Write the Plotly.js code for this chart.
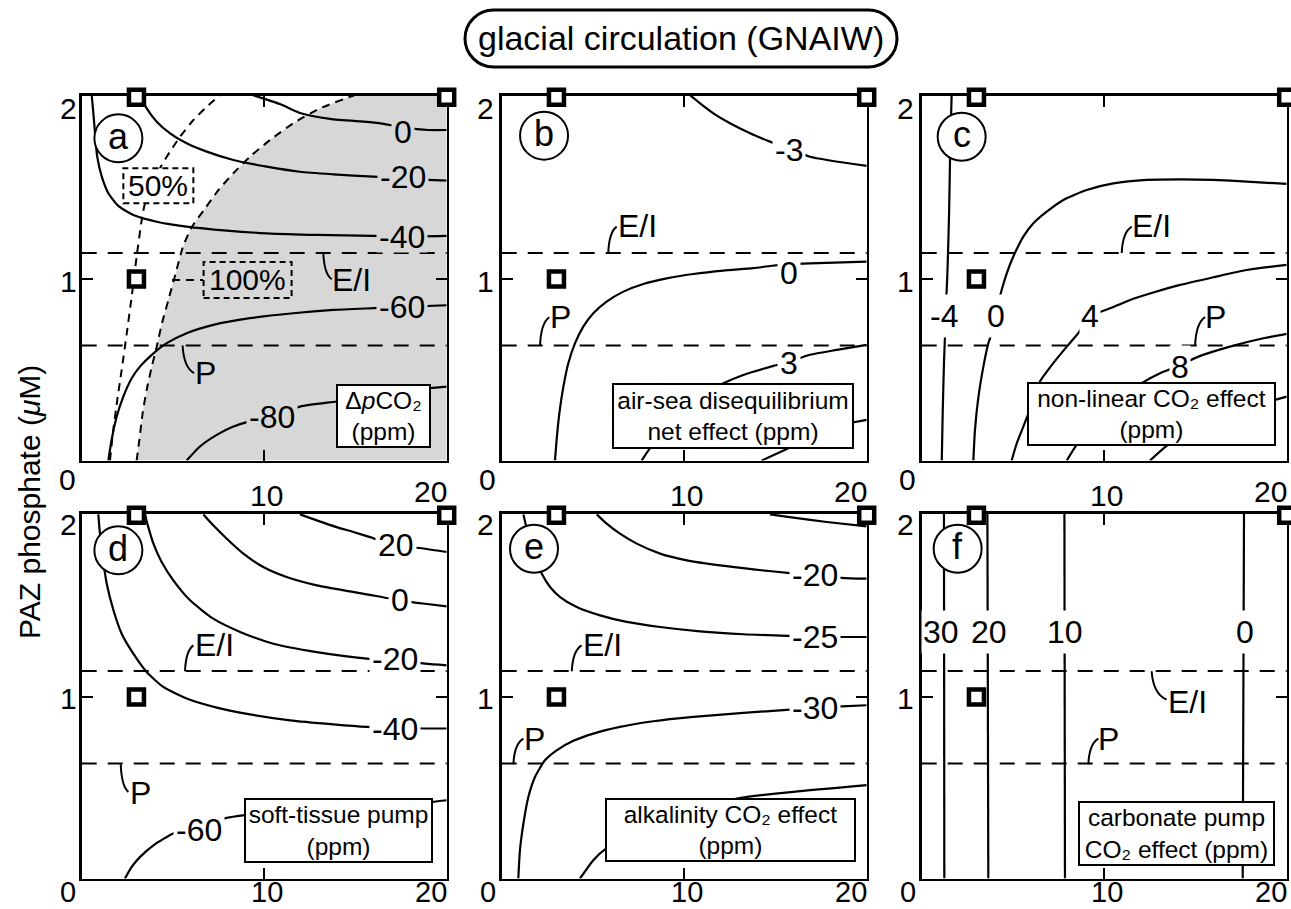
<!DOCTYPE html>
<html><head><meta charset="utf-8">
<script src="https://cdn.plot.ly/plotly-3.0.1.min.js"></script>
<style>html,body{margin:0;padding:0;background:#fff;}#chart{width:1291px;height:909px;}</style>
</head><body><div id="chart"></div>
<script>
// ================= DATA =================
const xTickVals = [0, 10, 20];
const xTickText = ['0', '10', '20'];
const yTickVals = [1, 2];
const yTickText = ['1', '2'];
const thresholdNames = ['E/I', 'P'];
const thresholdPhosphate = [1.143, 0.633];
const siteX = [3, 20, 3];
const siteY = [2, 2, 1];

// (a) ΔpCO2 contours
const a0_x   = [9.38, 10.86, 11.96, 13.61, 16.18, 17.55, 18.98, 20.0];
const a0_y   = [2.012, 1.963, 1.914, 1.881, 1.859, 1.836, 1.820, 1.820];
const am20_x = [3.19, 3.56, 4.11, 4.84, 5.75, 6.85, 8.31, 10.14, 11.96, 13.79, 15.98, 17.61, 18.98, 20.0];
const am20_y = [2.01, 1.939, 1.866, 1.802, 1.747, 1.701, 1.655, 1.618, 1.590, 1.576, 1.563, 1.556, 1.545, 1.542];
const am40_x = [0.55, 0.64, 0.73, 0.85, 1.10, 1.46, 2.01, 2.83, 4.11, 5.75, 7.95, 10.14, 12.88, 15.98, 17.61, 20.0];
const am40_y = [2.01, 1.912, 1.802, 1.673, 1.563, 1.472, 1.402, 1.352, 1.315, 1.288, 1.266, 1.251, 1.242, 1.237, 1.234, 1.237];
const am60_x = [1.46, 1.64, 1.92, 2.28, 2.74, 3.19, 3.84, 4.66, 5.75, 7.21, 9.22, 11.59, 13.79, 15.98, 17.61, 20.0];
const am60_y = [0, 0.114, 0.242, 0.352, 0.453, 0.517, 0.582, 0.646, 0.701, 0.747, 0.784, 0.811, 0.829, 0.839, 0.846, 0.855];
const am80_x = [5.75, 6.48, 7.40, 8.31, 9.11, 10.32, 11.96, 13.97, 16.62, 19.08, 20.0];
const am80_y = [0, 0.077, 0.141, 0.187, 0.213, 0.242, 0.297, 0.325, 0.362, 0.398, 0.407];
// (a) 50 % and 100 % boundaries (dashed)
const a50_x  = [1.55, 1.73, 1.95, 2.19, 2.47, 2.74, 3.01, 3.29, 3.47, 4.29, 4.66, 5.39, 6.12, 6.85, 7.58];
const a50_y  = [0, 0.169, 0.334, 0.499, 0.701, 0.903, 1.123, 1.325, 1.417, 1.609, 1.673, 1.783, 1.875, 1.948, 2.013];
const a100_x = [3.01, 3.16, 3.34, 3.56, 3.84, 4.11, 4.40, 4.75, 5.15, 5.55, 6.05, 6.70, 7.50, 8.31, 9.22, 10.32, 11.59, 13.06, 14.70, 14.92];
const a100_y = [0, 0.114, 0.261, 0.389, 0.517, 0.627, 0.756, 0.884, 1.031, 1.178, 1.288, 1.380, 1.490, 1.582, 1.673, 1.765, 1.857, 1.939, 2.003, 2.01];

// (b) air-sea disequilibrium net effect
const bm3_x = [10.32, 10.87, 11.60, 12.51, 13.61, 14.70, 15.80, 16.89, 20.0];
const bm3_y = [2.012, 1.967, 1.912, 1.857, 1.802, 1.756, 1.713, 1.673, 1.622];
const b0_x  = [2.92, 3.01, 3.16, 3.38, 3.65, 4.02, 4.47, 5.02, 5.75, 6.67, 7.76, 9.04, 10.50, 12.15, 13.79, 14.70, 15.80, 16.89, 20.0];
const b0_y  = [0, 0.114, 0.261, 0.407, 0.536, 0.646, 0.737, 0.811, 0.875, 0.930, 0.972, 1.003, 1.027, 1.046, 1.059, 1.071, 1.081, 1.086, 1.095];
const b3_x  = [7.67, 8.13, 9.59, 10.87, 12.15, 13.24, 14.89, 15.80, 16.89, 18.36, 20.0];
const b3_y  = [0, 0.068, 0.242, 0.361, 0.426, 0.471, 0.521, 0.545, 0.582, 0.609, 0.637];
const b6_x  = [14.25, 15.71, 17.81, 19.0, 20.0];
const b6_y  = [0, 0.068, 0.169, 0.205, 0.224];

// (c) non-linear CO2 effect
const cm4_x = [1.64, 1.59, 1.55, 1.50, 1.42, 1.37, 1.28, 1.28, 1.22, 1.15, 1.10];
const cm4_y = [2.012, 1.820, 1.646, 1.361, 1.068, 0.939, 0.793, 0.701, 0.536, 0.261, 0];
const c0_x  = [2.83, 2.92, 3.11, 3.38, 3.65, 3.84, 4.05, 4.38, 4.66, 5.02, 5.57, 6.12, 6.85, 7.76, 9.04, 10.50, 12.33, 14.16, 15.98, 17.81, 20.0];
const c0_y  = [0, 0.169, 0.352, 0.517, 0.646, 0.701, 0.802, 0.939, 1.031, 1.123, 1.233, 1.306, 1.370, 1.435, 1.490, 1.526, 1.545, 1.548, 1.545, 1.536, 1.523];
const c4_x  = [4.93, 5.21, 5.57, 6.03, 6.48, 7.21, 7.95, 8.58, 9.22, 10.32, 11.42, 12.69, 14.16, 15.98, 17.81, 20.0];
const c4_y  = [0, 0.095, 0.187, 0.306, 0.435, 0.536, 0.627, 0.701, 0.793, 0.838, 0.884, 0.925, 0.967, 1.009, 1.049, 1.077];
const c8_x  = [7.95, 8.49, 10.14, 12.05, 13.06, 14.16, 15.16, 16.89, 18.72, 20.0];
const c8_y  = [0, 0.086, 0.279, 0.426, 0.481, 0.525, 0.572, 0.627, 0.673, 0.697];
const c12_x = [12.51, 13.42, 15.98, 19.36, 20.0];
const c12_y = [0, 0.081, 0.242, 0.334, 0.352];

// (d) soft-tissue pump
const dm40_x = [0.91, 1.00, 1.15, 1.37, 1.74, 2.19, 2.83, 3.56, 4.47, 5.75, 7.40, 9.22, 11.42, 13.79, 15.62, 17.17, 18.81, 20.0];
const dm40_y = [2.005, 1.899, 1.770, 1.624, 1.477, 1.348, 1.238, 1.137, 1.055, 0.991, 0.941, 0.904, 0.871, 0.849, 0.835, 0.829, 0.826, 0.826];
const dm20_x = [3.47, 3.65, 3.93, 4.38, 5.02, 5.94, 7.21, 8.68, 10.50, 12.88, 15.62, 17.17, 18.81, 20.0];
const dm20_y = [2.005, 1.935, 1.844, 1.743, 1.642, 1.532, 1.431, 1.358, 1.293, 1.247, 1.211, 1.202, 1.183, 1.174];
const d0_x   = [6.67, 7.21, 7.95, 8.86, 9.95, 11.23, 12.88, 14.70, 15.62, 17.44, 18.81, 20.0];
const d0_y   = [2.005, 1.945, 1.871, 1.789, 1.715, 1.660, 1.614, 1.581, 1.565, 1.532, 1.513, 1.499];
const d20_x  = [11.96, 12.88, 13.97, 14.89, 15.80, 17.17, 18.81, 20.0];
const d20_y  = [2.005, 1.972, 1.935, 1.908, 1.880, 1.835, 1.816, 1.798];
const dm60_x = [2.37, 2.74, 3.20, 3.93, 5.02, 6.39, 7.76, 8.95, 13.79, 19.18, 20.0];
const dm60_y = [0, 0.064, 0.119, 0.183, 0.248, 0.290, 0.330, 0.349, 0.385, 0.422, 0.431];

// (e) alkalinity CO2 effect
const em15_x = [14.70, 15.98, 17.81, 20.0];
const em15_y = [2.005, 1.987, 1.963, 1.939];
const em20_x = [5.21, 5.75, 6.48, 7.40, 8.68, 10.14, 11.96, 13.79, 15.80, 17.17, 18.63, 20.0];
const em20_y = [2.005, 1.954, 1.899, 1.844, 1.789, 1.752, 1.724, 1.702, 1.682, 1.669, 1.656, 1.651];
const em25_x = [1.19, 1.33, 1.74, 2.19, 2.65, 3.20, 4.11, 5.39, 6.85, 8.68, 10.87, 13.24, 15.80, 17.17, 18.63, 20.0];
const em25_y = [2.005, 1.945, 1.789, 1.679, 1.605, 1.550, 1.495, 1.449, 1.413, 1.385, 1.361, 1.345, 1.336, 1.330, 1.330, 1.330];
const em30_x = [0.91, 1.00, 1.19, 1.46, 1.83, 2.37, 3.01, 3.93, 5.02, 6.48, 8.31, 10.50, 13.24, 15.80, 17.17, 18.63, 20.0];
const em30_y = [0, 0.156, 0.303, 0.449, 0.560, 0.651, 0.706, 0.758, 0.798, 0.835, 0.866, 0.890, 0.912, 0.930, 0.941, 0.948, 0.954];
const em35_x = [4.29, 5.02, 5.66, 8.68, 12.88, 15.98, 20.0];
const em35_y = [0, 0.101, 0.160, 0.321, 0.440, 0.477, 0.514];

// (f) carbonate pump CO2 effect (vertical contours)
const f30_x = [1.22, 1.24];
const f20_x = [3.60, 3.65];
const f10_x = [7.82, 7.85];
const f0_x  = [17.66, 17.59];
const f_y   = [2.01, 0];

// ================= LAYOUT CONFIG =================
const FONT = 'Liberation Sans, Arial, Helvetica, sans-serif';
const W = 1291, H = 909;
const colLeft = [81.7, 501.7, 921.7], rowTop = [95.5, 513.5], PW = 365, PH = 365;
const XR = [0, 20], YR = [0, 2.01];
const GRAY = '#d7d7d7';

const panels = [
  { letter: 'a', col: 0, row: 0, letterPos: [2.01, 1.774], labelBg: GRAY, labH: 26, labPad: 2,
    contours: [[a0_x, a0_y], [am20_x, am20_y], [am40_x, am40_y], [am60_x, am60_y], [am80_x, am80_y]],
    labels: [['0', 17.58, 1.809], ['-20', 17.63, 1.561], ['-40', 17.57, 1.229], ['-60', 17.57, 0.844], ['-80', 10.41, 0.242]],
    box: ['Δ<i>p</i>CO₂<br>(ppm)', 16.53, 0.247, 93, 62],
    ei: [14.79, 0.994, 13.24, 1.143, 13.70, 0.998], p: [6.76, 0.481, 5.53, 0.633, 6.16, 0.481] },
  { letter: 'b', col: 1, row: 0, letterPos: [2.32, 1.789], labelBg: 'white', labH: 26, labPad: 2,
    contours: [[bm3_x, bm3_y], [b0_x, b0_y], [b3_x, b3_y], [b6_x, b6_y]],
    labels: [['-3', 15.74, 1.710], ['0', 15.74, 1.031], ['3', 15.74, 0.536]],
    box: ['air-sea disequilibrium<br>net effect (ppm)', 12.69, 0.246, 240, 64],
    ei: [7.43, 1.293, 5.84, 1.143, 6.30, 1.288], p: [3.23, 0.789, 2.10, 0.633, 2.61, 0.789] },
  { letter: 'c', col: 2, row: 0, letterPos: [2.19, 1.783], labelBg: 'white', labH: 40, labPad: 1,
    contours: [[cm4_x, cm4_y], [c0_x, c0_y], [c4_x, c4_y], [c8_x, c8_y], [c12_x, c12_y]],
    labels: [['-4', 1.24, 0.793], ['0', 4.05, 0.793], ['4', 9.22, 0.793], ['8', 14.16, 0.514]],
    box: ['non-linear CO₂ effect<br>(ppm)', 12.60, 0.256, 247, 62],
    ei: [12.60, 1.293, 10.96, 1.143, 11.51, 1.288], p: [16.11, 0.789, 14.98, 0.633, 15.53, 0.789] },
  { letter: 'd', col: 0, row: 1, letterPos: [2.01, 1.807], labelBg: 'white', labH: 26, labPad: 2,
    contours: [[dm40_x, dm40_y], [dm20_x, dm20_y], [d0_x, d0_y], [d20_x, d20_y], [dm60_x, dm60_y]],
    labels: [['20', 17.2, 1.835], ['0', 17.44, 1.532], ['-20', 17.17, 1.211], ['-40', 17.17, 0.826], ['-60', 6.43, 0.266]],
    box: ['soft-tissue pump<br>(ppm)', 14.06, 0.266, 187, 63],
    ei: [7.25, 1.284, 5.66, 1.141, 6.12, 1.284], p: [3.23, 0.473, 2.14, 0.629, 2.56, 0.477] },
  { letter: 'e', col: 1, row: 1, letterPos: [1.77, 1.816], labelBg: 'white', labH: 26, labPad: 2,
    contours: [[em15_x, em15_y], [em20_x, em20_y], [em25_x, em25_y], [em30_x, em30_y], [em35_x, em35_y]],
    labels: [['-20', 17.17, 1.669], ['-25', 17.17, 1.330], ['-30', 17.17, 0.941]],
    box: ['alkalinity CO₂ effect<br>(ppm)', 12.53, 0.269, 249, 62],
    ei: [5.52, 1.284, 3.84, 1.141, 4.38, 1.284], p: [1.77, 0.770, 0.64, 0.629, 1.19, 0.770] },
  { letter: 'f', col: 2, row: 1, letterPos: [1.97, 1.816], labelBg: 'white', labH: 40, labPad: 1,
    contours: [[f30_x, f_y], [f20_x, f_y], [f10_x, f_y], [f0_x, f_y]],
    labels: [['30', 1.04, 1.358], ['20', 3.69, 1.358], ['10', 7.85, 1.358], ['0', 17.72, 1.358]],
    box: ['carbonate pump<br>CO₂ effect (ppm)', 13.98, 0.248, 195, 63],
    ei: [14.56, 0.972, 12.60, 1.141, 13.42, 0.985], p: [10.26, 0.770, 9.13, 0.629, 9.68, 0.770] }
];

// tick label offsets (pixels) to match the original hand placement
const xLabShiftX = [-14, 2.5, -16];
const xLabShiftY = [[-18.5, -35, -31], [-13.5, -13.5, -13.5]];
const yLabShiftX = [-13, -16, -16];
const yLabShiftY = [[-2, -10.5], [-1, -9]];

// ================= BUILD =================
const traces = [], shapes = [], annotations = [];
const layout = {
  width: W, height: H, margin: {l: 0, r: 0, t: 0, b: 0},
  paper_bgcolor: 'white', plot_bgcolor: 'white', showlegend: false,
  font: {family: FONT, color: 'black'}
};
const txt = (o) => Object.assign({showarrow: false, xanchor: 'center', yanchor: 'middle'}, o);

function hookPath(sx, sy, ex, ey) {
  const cx = sx + 0.1 * (ex - sx), cy = sy + 0.8 * (ey - sy);
  return `M ${sx},${sy} Q ${cx},${cy} ${ex},${ey}`;
}

panels.forEach((p, i) => {
  const n = i + 1, s = n === 1 ? '' : String(n);
  const xa = 'x' + s, ya = 'y' + s;
  const l = colLeft[p.col], t = rowTop[p.row];
  const axBase = {showgrid: false, zeroline: false, showline: true, linecolor: 'black', linewidth: 2.5,
    mirror: 'ticks', ticks: 'inside', ticklen: 11, tickwidth: 2, tickcolor: 'black',
    showticklabels: false, layer: 'below traces', fixedrange: true};
  layout['xaxis' + s] = Object.assign({}, axBase, {range: XR, tickvals: [10], anchor: ya,
    domain: [l / W, (l + PW) / W]});
  layout['yaxis' + s] = Object.assign({}, axBase, {range: YR, tickvals: [1], anchor: xa,
    domain: [1 - (t + PH) / H, 1 - t / H]});

  // contour lines
  p.contours.forEach(c => traces.push({type: 'scatter', mode: 'lines', x: c[0], y: c[1], xaxis: xa, yaxis: ya,
    line: {color: 'black', width: 2.2, shape: 'spline', smoothing: 0.6}, hoverinfo: 'skip'}));

  // threshold lines
  thresholdPhosphate.forEach(v => shapes.push({type: 'line', xref: xa + ' domain', yref: ya, x0: 0, x1: 1, y0: v, y1: v,
    line: {color: 'black', width: 2, dash: '15px,11px'}, layer: 'above'}));

  // hooks + threshold labels
  [p.ei, p.p].forEach((h, k) => {
    shapes.push({type: 'path', xref: xa, yref: ya, path: hookPath(h[2], h[3], h[4], h[5]),
      line: {color: 'black', width: 2}, layer: 'above'});
    annotations.push(txt({xref: xa, yref: ya, x: h[0], y: h[1], text: thresholdNames[k],
      font: {size: 32, family: FONT}}));
  });

  // panel letter circle
  shapes.push({type: 'circle', xref: xa, yref: ya, xsizemode: 'pixel', ysizemode: 'pixel',
    xanchor: p.letterPos[0], yanchor: p.letterPos[1], x0: -24, x1: 24, y0: -24, y1: 24,
    fillcolor: 'white', line: {color: 'black', width: 2}, layer: 'above'});
  annotations.push(txt({xref: xa, yref: ya, x: p.letterPos[0], y: p.letterPos[1], text: p.letter,
    font: {size: 36, family: FONT}, yshift: 2}));

  // contour labels
  p.labels.forEach(lb => annotations.push(txt({xref: xa, yref: ya, x: lb[1], y: lb[2], text: lb[0],
    font: {size: 32, family: FONT}, bgcolor: p.labelBg, borderpad: p.labPad, height: p.labH, valign: 'middle'})));

  // description box
  annotations.push(txt({xref: xa, yref: ya, x: p.box[1], y: p.box[2], text: p.box[0],
    font: {size: 24.5, family: FONT}, bgcolor: 'white', bordercolor: 'black', borderwidth: 2, borderpad: 0,
    width: p.box[3] - 2, height: p.box[4] - 2, align: 'center', valign: 'middle'}));

  // tick labels
  const xSize = p.row === 1 ? 29 : 30;
  xTickVals.forEach((v, k) => annotations.push(txt({xref: xa, yref: ya, x: v, y: 0, text: xTickText[k],
    xshift: xLabShiftX[k], yshift: xLabShiftY[p.row][k], height: 24, borderpad: 0, valign: 'middle',
    font: {size: xSize, family: FONT}})));
  yTickVals.forEach((v, k) => annotations.push(txt({xref: xa, yref: ya, x: 0, y: v, text: yTickText[k],
    xshift: yLabShiftX[p.col], yshift: yLabShiftY[p.row][k], height: 24, borderpad: 0, valign: 'middle',
    font: {size: 30, family: FONT}})));

  // sites
  traces.push({type: 'scatter', mode: 'markers', x: siteX, y: siteY, xaxis: xa, yaxis: ya, cliponaxis: false,
    marker: {symbol: 'square', size: 15, color: 'white', line: {color: 'black', width: 4.5}}, hoverinfo: 'skip'});
});

// panel (a): shaded region right of the 100 % boundary and dashed boundaries
let gp = 'M ' + a100_x.map((x, k) => `${x},${a100_y[k]}`).join(' L ');
gp += ` L ${XR[1]},${YR[1]} L ${XR[1]},${YR[0]} Z`;
shapes.push({type: 'path', xref: 'x', yref: 'y', path: gp, fillcolor: GRAY, line: {width: 0}, layer: 'below'});
[[a50_x, a50_y], [a100_x, a100_y]].forEach(c => traces.unshift({type: 'scatter', mode: 'lines', x: c[0], y: c[1],
  xaxis: 'x', yaxis: 'y', line: {color: 'black', width: 2, dash: '8px,6px', shape: 'spline', smoothing: 0.6}, hoverinfo: 'skip'}));

// 50 % / 100 % boxes
shapes.push({type: 'rect', xref: 'x', yref: 'y', xsizemode: 'pixel', ysizemode: 'pixel', xanchor: 4.20, yanchor: 1.513,
  x0: -35, x1: 35, y0: -17.5, y1: 17.5, fillcolor: 'white', line: {color: 'black', width: 2, dash: '6px,4px'}, layer: 'above'});
shapes.push({type: 'rect', xref: 'x', yref: 'y', xsizemode: 'pixel', ysizemode: 'pixel', xanchor: 9.09, yanchor: 0.994,
  x0: -44, x1: 44, y0: -18, y1: 18, line: {color: 'black', width: 2, dash: '6px,4px'}, layer: 'above'});
shapes.push({type: 'line', xref: 'x', yref: 'y', x0: 4.95, x1: 6.65, y0: 0.994, y1: 0.994,
  line: {color: 'black', width: 2, dash: '8px,6px'}, layer: 'above'});
annotations.push(txt({xref: 'x', yref: 'y', x: 4.20, y: 1.513, text: '50%', font: {size: 30, family: FONT}}));
annotations.push(txt({xref: 'x', yref: 'y', x: 9.09, y: 0.994, text: '100%', font: {size: 30, family: FONT}}));

// shared y title
annotations.push(txt({xref: 'paper', yref: 'paper', x: 29 / W, y: 1 - 502 / H, text: 'PAZ phosphate (<i>μ</i>M)',
  textangle: -90, font: {size: 30, family: FONT}}));

// main title in a pill
const pw = 216, ph = 28.5, pa = pw - ph, k = 0.5523 * ph;
const pill = `M ${-pa},${ph} L ${pa},${ph} C ${pa + k},${ph} ${pw},${k} ${pw},0 C ${pw},${-k} ${pa + k},${-ph} ${pa},${-ph} ` +
  `L ${-pa},${-ph} C ${-pa - k},${-ph} ${-pw},${-k} ${-pw},0 C ${-pw},${k} ${-pa - k},${ph} ${-pa},${ph} Z`;
shapes.push({type: 'path', xref: 'paper', yref: 'paper', xsizemode: 'pixel', ysizemode: 'pixel',
  xanchor: 681 / W, yanchor: 1 - 38.5 / H, path: pill, line: {color: 'black', width: 3}, fillcolor: 'white', layer: 'above'});
annotations.push(txt({xref: 'paper', yref: 'paper', x: 681 / W, y: 1 - 38.5 / H, text: 'glacial circulation (GNAIW)',
  font: {size: 34, family: FONT}}));

layout.shapes = shapes;
layout.annotations = annotations;
Plotly.newPlot('chart', traces, layout, {staticPlot: true, displayModeBar: false});
</script></body></html>
